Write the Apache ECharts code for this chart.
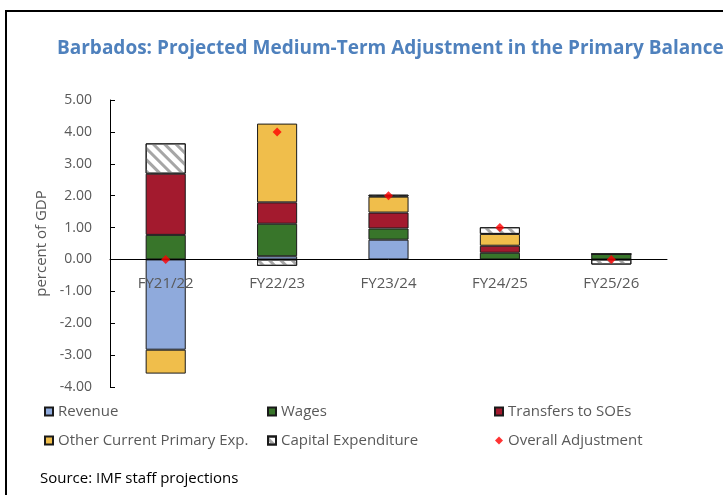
<!DOCTYPE html>
<html>
<head>
<meta charset="utf-8">
<script src="https://cdn.jsdelivr.net/npm/echarts@6/dist/echarts.min.js"></script>
<style>
  html, body { margin: 0; padding: 0; background: #fff; }
  #main { width: 723px; height: 495px; }
</style>
</head>
<body>
<div id="main"></div>
<script>
// data
var years = ['FY21/22', 'FY22/23', 'FY23/24', 'FY24/25', 'FY25/26'];
var revenue = [-2.83, 0.10, 0.62, 0.0, 0.0];
var wages = [0.77, 1.02, 0.35, 0.21, 0.17];
var transfers = [1.92, 0.67, 0.50, 0.22, 0.0];
var otherCurrent = [-0.75, 2.47, 0.50, 0.37, 0.0];
var capex = [0.95, -0.20, 0.06, 0.21, -0.16];
var overall = [0.0, 4.0, 2.0, 1.0, 0.0];
var yTicks = [-4, 5, 1]; // min, max, step

var grey = '#595959';
var font = 'Open Sans';
var gridTop = 100, gridBottom = 108, chartH = 495;

function barSeries(name, data, color, decal) {
    var s = {
        name: name,
        type: 'bar',
        stack: 'adj',
        data: data,
        barWidth: '36%',
        itemStyle: { color: color, borderColor: '#1a1a1a', borderWidth: 1 }
    };
    if (decal) s.itemStyle.decal = decal;
    return s;
}

var hatch = {
    symbol: 'rect',
    symbolSize: 1,
    dashArrayX: [[1, 0]],
    dashArrayY: [3, 5],
    rotation: Math.PI / 4,
    color: '#a6a6a6'
};

function legendCol(left, names) {
    return {
        orient: 'vertical',
        left: left,
        top: 404,
        padding: 0,
        itemWidth: 8,
        itemHeight: 8,
        itemGap: 14,
        textStyle: { color: grey, fontSize: 15, fontFamily: font },
        data: names.map(function (n) {
            return { name: n, icon: n === 'Overall Adjustment' ? 'diamond' : 'rect' };
        })
    };
}

// move the category axis up to the zero line
var plotH = chartH - gridTop - gridBottom;
var zeroOffset = -plotH * (0 - yTicks[0]) / (yTicks[1] - yTicks[0]);

var chart = echarts.init(document.getElementById('main'));
chart.setOption({
    animation: false,
    textStyle: { fontFamily: font },
    title: {
        text: 'Barbados: Projected Medium-Term Adjustment in the Primary Balance',
        left: 52,
        top: 34,
        textStyle: { color: '#4F81BD', fontSize: 19, fontWeight: 'bold', fontFamily: font }
    },
    graphic: [
        {
            type: 'rect',
            shape: { x: 6, y: 11, width: 800, height: 600 },
            style: { fill: 'none', stroke: '#000', lineWidth: 2 },
            silent: true
        },
        {
            type: 'text',
            left: 40,
            top: 471,
            style: { text: 'Source: IMF staff projections', fill: '#000', fontSize: 15, fontFamily: font }
        }
    ],
    legend: [
        legendCol(44, ['Revenue', 'Other Current Primary Exp.']),
        legendCol(267, ['Wages', 'Capital Expenditure']),
        legendCol(494, ['Transfers to SOEs', 'Overall Adjustment'])
    ],
    grid: { left: 110, right: 56, top: gridTop, bottom: gridBottom },
    xAxis: {
        type: 'category',
        data: years,
        z: 5,
        offset: zeroOffset,
        axisLine: { onZero: false, lineStyle: { color: '#000', width: 1 } },
        axisTick: { inside: true, length: 5, lineStyle: { color: '#000' } },
        axisLabel: { color: grey, fontSize: 15, margin: 17, fontFamily: font }
    },
    yAxis: {
        type: 'value',
        min: yTicks[0],
        max: yTicks[1],
        interval: yTicks[2],
        name: 'percent of GDP',
        nameLocation: 'middle',
        nameGap: 58,
        nameTextStyle: { color: grey, fontSize: 15, fontFamily: font },
        splitLine: { show: false },
        axisLine: { show: true, lineStyle: { color: '#000' } },
        axisTick: { show: true, inside: true, length: 5, lineStyle: { color: '#000' } },
        axisLabel: {
            color: grey, fontSize: 14, margin: 18, fontFamily: font,
            formatter: function (v) { return v.toFixed(2); }
        }
    },
    series: [
        barSeries('Revenue', revenue, '#8FAADC'),
        barSeries('Wages', wages, '#38752A'),
        barSeries('Transfers to SOEs', transfers, '#A31A2E'),
        barSeries('Other Current Primary Exp.', otherCurrent, '#F0BE4B'),
        barSeries('Capital Expenditure', capex, '#ffffff', hatch),
        {
            name: 'Overall Adjustment',
            type: 'scatter',
            data: overall,
            symbol: 'diamond',
            symbolSize: 9,
            z: 10,
            itemStyle: { color: '#FF0000' }
        }
    ]
});
</script>
</body>
</html>
